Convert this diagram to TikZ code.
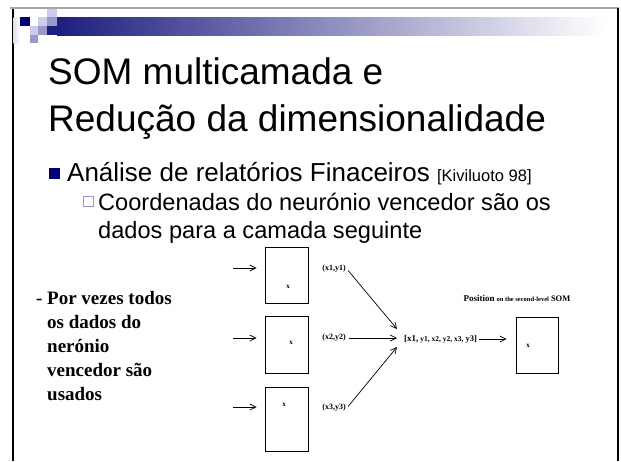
\documentclass[tikz,border=0pt]{standalone}
\usepackage{fontspec}
\setmainfont{Liberation Sans}
\newfontfamily\tnr{Liberation Serif}
\usetikzlibrary{arrows.meta,calc}
\definecolor{navy}{RGB}{0,0,128}
\definecolor{lilac}{RGB}{153,153,204}
\definecolor{pale}{RGB}{204,204,238}
\definecolor{barnavy}{RGB}{30,30,128}
\begin{document}
\begin{tikzpicture}[x=1pt,y=-1pt,
  som/.style={draw, line width=0.9pt, minimum width=43pt, inner sep=0pt},
  lbl/.style={font=\tnr\bfseries\fontsize{8}{9}\selectfont, inner sep=1pt},
  arr/.style={-{Straight Barb[length=6pt,width=6pt]}, line width=0.7pt},
  txt/.style={anchor=base west, inner sep=0pt},
  note/.style={txt, font=\tnr\bfseries\fontsize{19}{24}\selectfont}]
\useasboundingbox (0,0) rectangle (621,461);
\fill[white] (0,0) rectangle (621,461);
% frame
\draw[gray!70, line width=1.5pt] (10,8) -- (619,8);
\draw[black, line width=1.2pt] (618,8) -- (618,461);
\draw[black, line width=2pt] (12.5,9) -- (12.5,461);
% top-left decoration
\shade[left color=pale!60, right color=white] (13.5,17) rectangle (20,43);
\shade[left color=barnavy, right color=white] (57,17) rectangle (605,35);
\fill[barnavy] (47,26) rectangle (57,35);
\fill[navy] (20,17) rectangle (30,26);
\fill[pale] (47,9) rectangle (57,17);
\fill[pale] (38,17) rectangle (47,26);
\fill[lilac] (47,17) rectangle (57,26);
\fill[pale] (30,26) rectangle (38,35);
\fill[lilac] (38,26) rectangle (47,35);
\fill[lilac] (30,35) rectangle (38,43);
% title
\node[txt, font=\fontsize{37}{42}\selectfont] (t1) at (48,84) {SOM multicamada e};
\node[txt, font=\fontsize{37}{42}\selectfont] (t2) at (48,131) {Redução da dimensionalidade};
% bullet
\fill[navy] (49,168) rectangle (60,179);
\node[txt, font=\fontsize{26}{30}\selectfont] (b1) at (67,181) {Análise de relatórios Finaceiros {\fontsize{16.5}{18}\selectfont[Kiviluoto 98]}};
\draw[lilac, line width=0.9pt] (83,196) rectangle (93,206);
\node[txt, font=\fontsize{23.6}{28}\selectfont] (s1) at (98,210) {Coordenadas do neurónio vencedor são os};
\node[txt, font=\fontsize{23.6}{28}\selectfont] (s2) at (98,238) {dados para a camada seguinte};
% left note
\node[note] (n0) at (36,304) {-};
\node[note] (n1) at (47,304) {Por vezes todos};
\node[note] (n2) at (47,328) {os dados do};
\node[note] (n3) at (47,352) {nerónio};
\node[note] (n4) at (47,376) {vencedor são};
\node[note] (n5) at (47,400) {usados};
% boxes
\node[som, minimum height=56pt] (m1) at (286.5,275) {};
\node[som, minimum height=57pt] (m2) at (286.5,344.5) {};
\node[som, minimum height=64pt] (m3) at (286.5,419) {};
\node[som, minimum height=56pt, minimum width=42pt] (m4) at (537,345) {};
\node[lbl, font=\tnr\bfseries\fontsize{7}{8}\selectfont] (x1) at (288,287) {x};
\node[lbl, font=\tnr\bfseries\fontsize{7}{8}\selectfont] (x2) at (291,343) {x};
\node[lbl, font=\tnr\bfseries\fontsize{7}{8}\selectfont] (x3) at (284,405) {x};
\node[lbl, font=\tnr\bfseries\fontsize{7}{8}\selectfont] (x4) at (528,346) {x};
% inputs
\coordinate (i1) at (233,268);
\coordinate (i2) at (233,338);
\coordinate (i3) at (233,407);
\draw[arr, shorten >=8pt] (i1) -- (i1 -| m1.west);
\draw[arr, shorten >=8pt] (i2) -- (i2 -| m2.west);
\draw[arr, shorten >=8pt] (i3) -- (i3 -| m3.west);
% coordinate labels
\node[lbl] (l1) at (334,269) {(x1,y1)};
\node[lbl] (l2) at (334,338) {(x2,y2)};
\node[lbl] (l3) at (334,408) {(x3,y3)};
\node[lbl, anchor=west] (v) at (403,339) {{\fontsize{9}{9}\selectfont[x1,} {\fontsize{7.5}{8}\selectfont y1, x2, y2, x3,} {\fontsize{8.5}{9}\selectfont y3]}};
\draw[arr, shorten <=2pt] (l1.east) -- ($(v.west)+(-6,-10)$);
\draw[arr, shorten <=2pt, shorten >=6pt] (l2.east) -- (l2.east -| v.west);
\draw[arr, shorten <=2pt] (l3.east) -- ($(v.west)+(-6,8)$);
\draw[arr, shorten <=1pt, shorten >=9pt] (v.east) -- (v.east -| m4.west);
\node[lbl] (p) at (517,298) {{\fontsize{9}{9}\selectfont Position} {\fontsize{6.5}{7}\selectfont on the second-level} {\fontsize{8.5}{9}\selectfont SOM}};
\end{tikzpicture}
\end{document}
